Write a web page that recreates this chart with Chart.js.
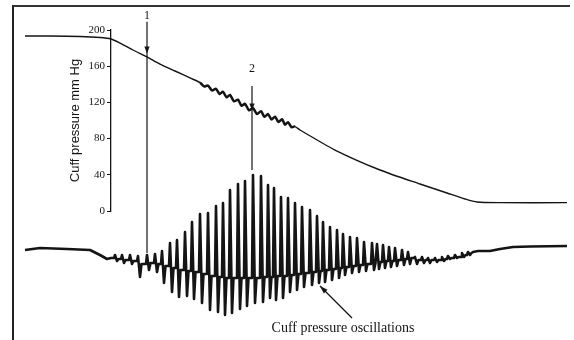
<!DOCTYPE html>
<html>
<head>
<meta charset="utf-8">
<script src="https://cdn.jsdelivr.net/npm/chart.js@4.4.1/dist/chart.umd.min.js"></script>
<style>
  html, body { margin: 0; padding: 0; background: #fff; }
  #wrap { position: relative; width: 574px; height: 340px; overflow: hidden; }
  #frame { position: absolute; left: 12px; top: 5px; width: 556px; height: 340px; border-left: 2px solid #222; border-top: 2px solid #333; }
  canvas { position: absolute; left: 0; top: 0; }
</style>
</head>
<body>
<div id="wrap">
  <canvas id="chart" width="574" height="340"></canvas>
  <div id="frame"></div>
</div>
<script>
// time in seconds, cuff pressure in mm Hg
const pressureTime = [0.1, 2.6, 5.6, 7.6, 8.7, 9.6, 10.9, 12.3, 13.6, 15.1,
  16.6, 17.6, 18.0, 18.4, 18.8, 19.2, 19.55, 19.9, 20.25, 20.6,
  21.0, 21.4, 21.75, 22.1, 22.5, 22.9, 23.3, 23.7, 24.05, 24.4,
  24.75, 25.1, 25.45, 25.8, 26.1, 26.4, 26.75, 27.1, 27.6, 31.1,
  35.6, 39.6, 42.3, 44.1, 45.3, 47.6, 54.3];
const pressureValue = [193.4, 193.4, 192.8, 191.7, 190.1, 185.6, 177.9, 170.2, 162.4, 154.7,
  147.0, 141.9, 137.7, 138.6, 133.2, 135.0, 129.3, 131.7, 125.6, 128.2,
  121.2, 123.0, 116.3, 118.4, 111.2, 113.6, 107.1, 110.2, 104.0, 107.1,
  101.2, 104.2, 98.3, 101.4, 95.3, 98.1, 92.7, 93.3, 89.5, 67.4,
  45.3, 29.8, 19.9, 13.3, 9.9, 9.2, 9.2];

// oscillation trace (relative units), one entry per heart beat
const beatTime = [9.1, 9.8, 10.6, 11.4, 12.3, 13.1, 13.8, 14.6, 15.3, 16.1,
  16.8, 17.6, 18.4, 19.2, 19.9, 20.6, 21.4, 22.1, 22.9, 23.7,
  24.4, 25.0, 25.7, 26.4, 27.1, 27.8, 28.6, 29.3, 29.9, 30.6,
  31.3, 31.9, 32.6, 33.3, 34.0, 34.8, 35.3, 35.9, 36.5, 37.1,
  37.8, 38.4, 39.1, 39.8, 40.4, 41.1, 41.8, 42.4, 43.1, 43.8, 44.4];
const beatPeak = [-0.3, -0.3, -0.3, -0.4, -0.3, -0.2, 0.1, 0.9, 1.2, 2.0,
  3.0, 3.8, 3.9, 4.6, 4.9, 6.2, 6.8, 7.1, 7.7, 7.6,
  6.7, 6.4, 5.5, 5.4, 4.9, 4.5, 4.2, 3.6, 3.0, 2.5,
  2.2, 1.8, 1.5, 1.4, 1.0, 0.9, 0.8, 0.7, 0.5, 0.4,
  0.2, 0.0, -0.5, -0.5, -0.6, -0.6, -0.5, -0.4, -0.3, -0.1, 0.0];
const beatTrough = [-0.9, -1.1, -1.2, -2.5, -1.8, -2.0, -3.1, -4.0, -4.5, -4.4,
  -4.7, -5.1, -5.8, -6.0, -6.3, -6.1, -5.7, -5.4, -5.1, -5.0,
  -4.6, -4.8, -4.6, -4.0, -3.8, -3.5, -3.3, -3.1, -3.0, -2.8,
  -2.6, -2.3, -2.1, -2.0, -1.9, -1.8, -1.7, -1.6, -1.5, -1.4,
  -1.3, -1.2, -1.2, -1.1, -1.1, -1.0, -0.9, -0.7, -0.6, -0.5, -0.3];
const beatRest = [-0.7, -0.8, -0.9, -1.2, -1.1, -1.2, -1.4, -1.6, -1.8, -1.9,
  -2.0, -2.2, -2.4, -2.5, -2.6, -2.6, -2.6, -2.6, -2.6, -2.5,
  -2.5, -2.4, -2.4, -2.3, -2.2, -2.1, -2.0, -1.9, -1.8, -1.7,
  -1.6, -1.5, -1.4, -1.3, -1.2, -1.1, -1.0, -0.9, -0.9, -0.8,
  -0.7, -0.6, -0.8, -0.8, -0.8, -0.8, -0.7, -0.6, -0.5, -0.3, -0.1];
const oscLeadTime = [0.1, 1.6, 4.3, 6.6, 7.6, 8.3, 8.7];
const oscLeadValue = [0.2, 0.4, 0.3, 0.2, -0.3, -0.7, -0.6];
const oscTailTime = [44.9, 45.4, 46.6, 47.6, 48.9, 50.6, 54.3];
const oscTailValue = [0.0, 0.1, 0.1, 0.3, 0.5, 0.55, 0.6];

const yTicks = [0, 40, 80, 120, 160, 200];

// markers 1 and 2
const markerTimes = [12.3, 22.8];
const markerLabels = ["1", "2"];
const markerLabelAt = [216, 157];
const markerFrom = [209, 138];
const markerArrow = [174, 111];
const markerTo = [-0.1, 8.2];

const noteText = "Cuff pressure oscillations";
const noteFrom = [32.8, -6.6];
const noteTo = [29.6, -3.4];
const noteAt = [31.9, -7.6];

const ink = "#141414";
const serif = "'Liberation Serif', 'DejaVu Serif', serif";
const sans = "'Liberation Sans', Arial, sans-serif";
const riseLag = 0.1, troughLag = 0.2, restLag = 0.35;

function buildOscillation() {
  const pts = oscLeadTime.map((t, i) => ({ x: t, y: oscLeadValue[i] }));
  let prevRest = oscLeadValue[oscLeadValue.length - 1];
  beatTime.forEach((t, i) => {
    pts.push({ x: t - riseLag, y: prevRest });
    pts.push({ x: t, y: beatPeak[i] });
    pts.push({ x: t + troughLag, y: beatTrough[i] });
    pts.push({ x: t + restLag, y: beatRest[i] });
    prevRest = beatRest[i];
  });
  oscTailTime.forEach((t, i) => pts.push({ x: t, y: oscTailValue[i] }));
  return pts;
}

function arrowHead(ctx, x1, y1, x2, y2, len, half) {
  const a = Math.atan2(y2 - y1, x2 - x1);
  ctx.beginPath();
  ctx.moveTo(x2, y2);
  ctx.lineTo(x2 - len * Math.cos(a) + half * Math.sin(a), y2 - len * Math.sin(a) - half * Math.cos(a));
  ctx.lineTo(x2 - len * Math.cos(a) - half * Math.sin(a), y2 - len * Math.sin(a) + half * Math.cos(a));
  ctx.closePath();
  ctx.fill();
}

const annotations = {
  id: "annotations",
  afterDatasetsDraw(chart) {
    const { ctx, scales } = chart;
    const { x, y, yOsc } = scales;
    ctx.save();
    ctx.strokeStyle = ink;
    ctx.fillStyle = ink;
    ctx.lineWidth = 1.2;
    markerTimes.forEach((t, i) => {
      const px = x.getPixelForValue(t);
      const top = y.getPixelForValue(markerFrom[i]);
      const tip = y.getPixelForValue(markerArrow[i]);
      const end = yOsc.getPixelForValue(markerTo[i]);
      ctx.beginPath();
      ctx.moveTo(px, top);
      ctx.lineTo(px, end);
      ctx.stroke();
      arrowHead(ctx, px, top, px, tip, 7, 2.6);
      ctx.font = `12px ${serif}`;
      ctx.textAlign = "center";
      ctx.textBaseline = "middle";
      ctx.fillText(markerLabels[i], px, y.getPixelForValue(markerLabelAt[i]));
    });
    const ax = x.getPixelForValue(noteFrom[0]);
    const ay = yOsc.getPixelForValue(noteFrom[1]);
    const bx = x.getPixelForValue(noteTo[0]);
    const by = yOsc.getPixelForValue(noteTo[1]);
    ctx.beginPath();
    ctx.moveTo(ax, ay);
    ctx.lineTo(bx, by);
    ctx.stroke();
    arrowHead(ctx, ax, ay, bx, by, 8, 2.6);
    ctx.font = `14px ${serif}`;
    ctx.textAlign = "center";
    ctx.textBaseline = "middle";
    ctx.fillText(noteText, x.getPixelForValue(noteAt[0]), yOsc.getPixelForValue(noteAt[1]));
    ctx.restore();
  }
};

new Chart(document.getElementById("chart"), {
  type: "line",
  data: {
    datasets: [
      {
        label: "Cuff pressure",
        data: pressureTime.map((t, i) => ({ x: t, y: pressureValue[i] })),
        yAxisID: "y",
        borderColor: ink,
        borderWidth: 1.4,
        pointRadius: 0,
        tension: 0.25,
        clip: false,
        segment: {
          borderWidth: (c) => (c.p0.parsed.x >= 17.5 && c.p1.parsed.x <= 27.2 ? 2.5 : 1.4)
        }
      },
      {
        label: noteText,
        data: buildOscillation(),
        yAxisID: "yOsc",
        borderColor: ink,
        borderWidth: 2.6,
        borderJoinStyle: "round",
        pointRadius: 0,
        tension: 0,
        clip: false
      }
    ]
  },
  options: {
    responsive: false,
    animation: false,
    devicePixelRatio: 1,
    layout: { padding: { left: 64, top: 30, right: 0, bottom: 129 } },
    plugins: { legend: { display: false }, tooltip: { enabled: false } },
    scales: {
      x: {
        type: "linear",
        display: false,
        bounds: "data",
        afterDataLimits: (s) => { s.min = 8.7; s.max = 55; }
      },
      y: {
        type: "linear",
        position: "left",
        min: 0,
        max: 200,
        afterFit: (s) => { s.width = 47; },
        afterBuildTicks: (s) => { s.ticks = yTicks.map((v) => ({ value: v })); },
        ticks: { color: ink, font: { family: serif, size: 11 }, padding: 2 },
        grid: { drawOnChartArea: false, drawTicks: true, tickLength: 4, color: ink },
        border: { display: true, color: ink, width: 1.3 },
        title: {
          display: true,
          text: "Cuff pressure mm Hg",
          color: ink,
          font: { family: sans, size: 13 },
          padding: { top: 4, bottom: 0 }
        }
      },
      yOsc: { type: "linear", display: false, bounds: "data", min: 4.1, max: 22.2 }
    }
  },
  plugins: [annotations]
});
</script>
</body>
</html>
